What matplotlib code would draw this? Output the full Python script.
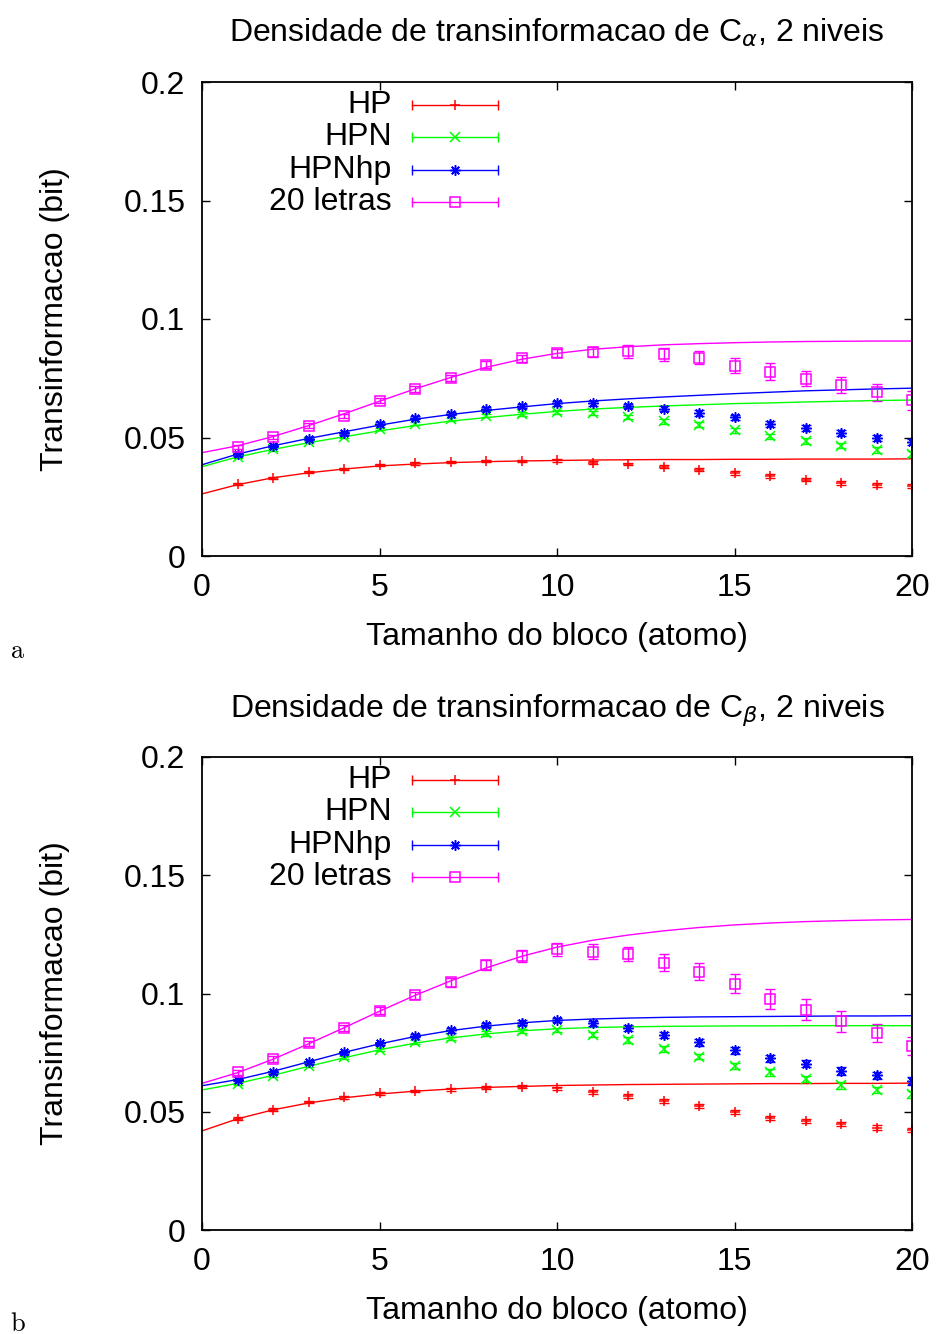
import numpy as np
import matplotlib
matplotlib.use('Agg')
import matplotlib.pyplot as plt

plt.rcParams['font.family'] = ['Liberation Sans', 'DejaVu Sans']
plt.rcParams['mathtext.fontset'] = 'dejavusans'

# block sizes (data points) and the x grid of the fitted curves
x = np.arange(1, 21)
xfit = np.arange(0, 21)

# ---- C alpha, 2 levels ----
hp_a = [0.0302, 0.0331, 0.0353, 0.0366, 0.0384, 0.0391, 0.0396, 0.0400, 0.0401, 0.0404,
        0.0394, 0.0388, 0.0377, 0.0364, 0.0350, 0.0337, 0.0322, 0.0309, 0.0301, 0.0295]
hpn_a = [0.0419, 0.0450, 0.0480, 0.0504, 0.0536, 0.0558, 0.0577, 0.0592, 0.0598, 0.0608,
         0.0602, 0.0588, 0.0568, 0.0554, 0.0530, 0.0505, 0.0485, 0.0465, 0.0447, 0.0429]
hpnhp_a = [0.0429, 0.0464, 0.0495, 0.0518, 0.0558, 0.0584, 0.0601, 0.0622, 0.0633, 0.0644,
           0.0644, 0.0633, 0.0622, 0.0603, 0.0585, 0.0557, 0.0541, 0.0518, 0.0499, 0.0481]
l20_a = [0.0460, 0.0501, 0.0550, 0.0591, 0.0655, 0.0705, 0.0752, 0.0807, 0.0834, 0.0855,
         0.0861, 0.0864, 0.0851, 0.0837, 0.0803, 0.0778, 0.0748, 0.0720, 0.0691, 0.0657]

hp_a_err = [0.0004, 0.0004, 0.0004, 0.0005, 0.0005, 0.0005, 0.0005, 0.0005, 0.0005, 0.0006,
            0.0006, 0.0006, 0.0006, 0.0007, 0.0007, 0.0007, 0.0007, 0.0008, 0.0008, 0.0008]
hpn_a_err = [0.0005, 0.0005, 0.0005, 0.0006, 0.0006, 0.0006, 0.0007, 0.0007, 0.0008, 0.0008,
             0.0009, 0.0009, 0.0010, 0.0010, 0.0010, 0.0011, 0.0011, 0.0011, 0.0012, 0.0012]
hpnhp_a_err = [0.0005, 0.0005, 0.0006, 0.0006, 0.0006, 0.0007, 0.0007, 0.0008, 0.0008, 0.0009,
               0.0009, 0.0010, 0.0010, 0.0011, 0.0011, 0.0012, 0.0012, 0.0012, 0.0013, 0.0013]
l20_a_err = [0.0008, 0.0009, 0.0010, 0.0010, 0.0011, 0.0012, 0.0013, 0.0014, 0.0015, 0.0017,
             0.0020, 0.0027, 0.0027, 0.0026, 0.0032, 0.0036, 0.0031, 0.0034, 0.0036, 0.0039]

fit_hp_a = [0.0262, 0.0301, 0.0330, 0.0351, 0.0367, 0.0380, 0.0388, 0.0394, 0.0398, 0.0401, 0.0403,
            0.0405, 0.0406, 0.0407, 0.0407, 0.0408, 0.0408, 0.0409, 0.0409, 0.0409, 0.0410]
fit_hpn_a = [0.0377, 0.0418, 0.0450, 0.0478, 0.0503, 0.0528, 0.0550, 0.0569, 0.0584, 0.0598, 0.0610,
             0.0620, 0.0627, 0.0633, 0.0638, 0.0643, 0.0646, 0.0650, 0.0653, 0.0656, 0.0658]
fit_hpnhp_a = [0.0385, 0.0430, 0.0465, 0.0496, 0.0524, 0.0552, 0.0577, 0.0597, 0.0614, 0.0629, 0.0643,
               0.0654, 0.0663, 0.0671, 0.0678, 0.0685, 0.0691, 0.0697, 0.0701, 0.0705, 0.0708]
fit_l20_a = [0.0436, 0.0465, 0.0504, 0.0550, 0.0600, 0.0653, 0.0705, 0.0753, 0.0796, 0.0830, 0.0855,
             0.0872, 0.0883, 0.0891, 0.0896, 0.0900, 0.0903, 0.0905, 0.0906, 0.0907, 0.0907]

# ---- C beta, 2 levels ----
hp_b = [0.0471, 0.0509, 0.0540, 0.0561, 0.0578, 0.0588, 0.0595, 0.0602, 0.0606, 0.0599,
        0.0585, 0.0568, 0.0544, 0.0524, 0.0500, 0.0475, 0.0460, 0.0448, 0.0433, 0.0423]
hpn_b = [0.0617, 0.0653, 0.0695, 0.0730, 0.0762, 0.0795, 0.0810, 0.0831, 0.0841, 0.0846,
         0.0825, 0.0803, 0.0764, 0.0733, 0.0695, 0.0666, 0.0640, 0.0611, 0.0592, 0.0574]
hpnhp_b = [0.0634, 0.0667, 0.0709, 0.0751, 0.0789, 0.0822, 0.0844, 0.0868, 0.0877, 0.0888,
           0.0874, 0.0855, 0.0824, 0.0794, 0.0760, 0.0727, 0.0703, 0.0672, 0.0654, 0.0631]
l20_b = [0.0667, 0.0723, 0.0789, 0.0854, 0.0927, 0.0992, 0.1047, 0.1121, 0.1159, 0.1187,
         0.1177, 0.1166, 0.1131, 0.1093, 0.1042, 0.0977, 0.0932, 0.0882, 0.0832, 0.0778]

hp_b_err = [0.0005, 0.0005, 0.0005, 0.0005, 0.0006, 0.0006, 0.0006, 0.0007, 0.0007, 0.0007,
            0.0008, 0.0008, 0.0008, 0.0008, 0.0009, 0.0009, 0.0009, 0.0009, 0.0009, 0.0009]
hpn_b_err = [0.0006, 0.0006, 0.0006, 0.0007, 0.0007, 0.0008, 0.0008, 0.0009, 0.0009, 0.0010,
             0.0011, 0.0011, 0.0012, 0.0012, 0.0013, 0.0013, 0.0013, 0.0014, 0.0014, 0.0014]
hpnhp_b_err = [0.0006, 0.0006, 0.0007, 0.0007, 0.0008, 0.0008, 0.0009, 0.0009, 0.0010, 0.0010,
               0.0011, 0.0012, 0.0013, 0.0014, 0.0015, 0.0015, 0.0015, 0.0016, 0.0016, 0.0016]
l20_b_err = [0.0010, 0.0011, 0.0012, 0.0013, 0.0014, 0.0015, 0.0018, 0.0020, 0.0027, 0.0027,
             0.0033, 0.0030, 0.0037, 0.0036, 0.0040, 0.0044, 0.0046, 0.0043, 0.0039, 0.0040]

fit_hp_b = [0.0419, 0.0470, 0.0508, 0.0537, 0.0559, 0.0575, 0.0587, 0.0596, 0.0603, 0.0607, 0.0611,
            0.0613, 0.0615, 0.0616, 0.0617, 0.0618, 0.0619, 0.0619, 0.0620, 0.0620, 0.0621]
fit_hpn_b = [0.0592, 0.0620, 0.0654, 0.0692, 0.0728, 0.0762, 0.0790, 0.0812, 0.0829, 0.0842, 0.0851,
             0.0856, 0.0859, 0.0861, 0.0862, 0.0863, 0.0863, 0.0864, 0.0864, 0.0864, 0.0864]
fit_hpnhp_b = [0.0610, 0.0636, 0.0671, 0.0711, 0.0751, 0.0787, 0.0818, 0.0843, 0.0862, 0.0876, 0.0886,
               0.0892, 0.0896, 0.0899, 0.0901, 0.0902, 0.0903, 0.0904, 0.0905, 0.0905, 0.0906]
fit_l20_b = [0.0620, 0.0665, 0.0722, 0.0787, 0.0855, 0.0925, 0.0992, 0.1053, 0.1108, 0.1157, 0.1196,
             0.1225, 0.1247, 0.1265, 0.1279, 0.1290, 0.1298, 0.1304, 0.1308, 0.1311, 0.1313]

names = ['HP', 'HPN', 'HPNhp', '20 letras']
colors = ['#ff0000', '#00ff00', '#0000ff', '#ff00ff']
markers = ['+', 'x', (8, 2, 0), 's']
msizes = [7.5, 6.5, 7.5, 6.5]

yticks = [0, 0.05, 0.1, 0.15, 0.2]
ytick_labels = ['0', '0.05', '0.1', '0.15', '0.2']
xticks = [0, 5, 10, 15, 20]

FS = 23


def panel(ax, series, errs, fits, title):
    for y, e, f, c, m, ms in zip(series, errs, fits, colors, markers, msizes):
        ax.plot(xfit, f, '-', color=c, lw=1.0)
        mfc = 'none' if m == 's' else c
        ax.errorbar(x, y, yerr=e, fmt='none', ecolor=c, elinewidth=1.0,
                    capsize=3.4, capthick=1.0)
        ax.plot(x, y, linestyle='none', marker=m, ms=ms, mec=c, mfc=mfc, mew=1.1)
    ax.set_xlim(0, 20)
    ax.set_ylim(0, 0.2)
    ax.set_xticks(xticks)
    ax.set_yticks(yticks)
    ax.set_yticklabels(ytick_labels)
    ax.tick_params(direction='in', top=True, right=True, length=6, width=1.0,
                   labelsize=FS, pad=12)
    for s in ax.spines.values():
        s.set_linewidth(1.3)
    ax.set_xlabel('Tamanho do bloco (atomo)', fontsize=FS)
    ax.xaxis.set_label_coords(0.5, -0.14)
    ax.set_ylabel('Transinformacao (bit)', fontsize=FS)
    ax.yaxis.set_label_coords(-0.186, 0.5)
    ax.text(0.5, 1.086, title, transform=ax.transAxes, ha='center',
            va='baseline', fontsize=FS)

    # key: label, errorbar sample line with caps and the point symbol
    for i, (n, c, m, ms) in enumerate(zip(names, colors, markers, msizes)):
        yk = 0.9515 - 0.0684 * i
        ax.text(0.2676, yk, n, transform=ax.transAxes, ha='right', va='center',
                fontsize=FS)
        ax.plot([0.2958, 0.4169], [yk, yk], color=c, lw=1.0, transform=ax.transAxes,
                clip_on=False)
        ax.plot([0.2958, 0.4169], [yk, yk], linestyle='none', marker='|', ms=7,
                mew=1.0, color=c, transform=ax.transAxes, clip_on=False)
        mfc = 'none' if m == 's' else c
        ax.plot([0.3563], [yk], linestyle='none', marker=m, ms=ms, mec=c,
                mfc=mfc, mew=1.1, transform=ax.transAxes, clip_on=False)


fig = plt.figure(figsize=(9.38, 13.34), dpi=100)
ax1 = fig.add_axes([202 / 938, 1 - 556 / 1334, 710 / 938, 474 / 1334])
ax2 = fig.add_axes([202 / 938, 1 - 1230 / 1334, 710 / 938, 473 / 1334])

panel(ax1, [hp_a, hpn_a, hpnhp_a, l20_a],
      [hp_a_err, hpn_a_err, hpnhp_a_err, l20_a_err],
      [fit_hp_a, fit_hpn_a, fit_hpnhp_a, fit_l20_a],
      r'Densidade de transinformacao de C$_\alpha$, 2 niveis')
panel(ax2, [hp_b, hpn_b, hpnhp_b, l20_b],
      [hp_b_err, hpn_b_err, hpnhp_b_err, l20_b_err],
      [fit_hp_b, fit_hpn_b, fit_hpnhp_b, fit_l20_b],
      r'Densidade de transinformacao de C$_\beta$, 2 niveis')

fig.text(10 / 938, 1 - 658 / 1334, r'$\mathrm{a}$', math_fontfamily='cm',
         fontsize=19, ha='left', va='baseline')
fig.text(10 / 938, 1 - 1331 / 1334, r'$\mathrm{b}$', math_fontfamily='cm',
         fontsize=19, ha='left', va='baseline')

fig.savefig('out.png', dpi=100)
